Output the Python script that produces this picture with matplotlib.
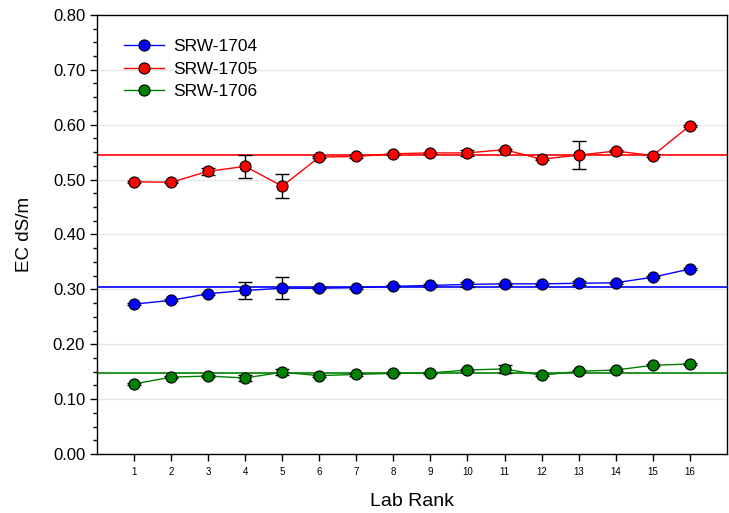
import matplotlib
matplotlib.use("Agg")
import matplotlib.pyplot as plt
from matplotlib.ticker import MultipleLocator

plt.rcParams['font.family'] = ['Liberation Sans', 'DejaVu Sans']

ranks = list(range(1, 17))
series_names = ["SRW-1704", "SRW-1705", "SRW-1706"]
colors = ["#0000ff", "#ff0000", "#008000"]

srw1704 = [0.273, 0.280, 0.292, 0.298, 0.302, 0.302, 0.303, 0.3055, 0.307, 0.309, 0.310, 0.310, 0.311, 0.312, 0.322, 0.337]
srw1704_err = [0.002, 0.002, 0.002, 0.0155, 0.020, 0.002, 0.002, 0.002, 0.002, 0.004, 0.002, 0.002, 0.004, 0.002, 0.002, 0.002]
srw1705 = [0.496, 0.495, 0.515, 0.524, 0.488, 0.541, 0.542, 0.547, 0.5485, 0.5485, 0.5545, 0.537, 0.5445, 0.552, 0.5437, 0.598]
srw1705_err = [0.002, 0.002, 0.006, 0.021, 0.022, 0.002, 0.002, 0.002, 0.002, 0.005, 0.002, 0.002, 0.026, 0.002, 0.002, 0.002]
srw1706 = [0.1276, 0.140, 0.142, 0.1385, 0.149, 0.1427, 0.145, 0.147, 0.1476, 0.153, 0.155, 0.1434, 0.1507, 0.153, 0.1616, 0.164]
srw1706_err = [0.002, 0.002, 0.002, 0.005, 0.005, 0.002, 0.002, 0.002, 0.002, 0.002, 0.007, 0.002, 0.002, 0.002, 0.002, 0.002]
ref_values = [0.304, 0.544, 0.147]

x_ticks = ranks
y_ticks = [0.0, 0.1, 0.2, 0.3, 0.4, 0.5, 0.6, 0.7, 0.8]

fig = plt.figure(figsize=(7.29, 5.13), dpi=100)
ax = fig.add_axes([0.133, 0.115, 0.864, 0.856])

for yv in y_ticks[1:-1]:
    ax.axhline(yv, color="#e6e6e6", lw=1.0, zorder=0)

data = [(srw1704, srw1704_err), (srw1705, srw1705_err), (srw1706, srw1706_err)]
for (vals, errs), name, c, rv in zip(data, series_names, colors, ref_values):
    ax.axhline(rv, color=c, lw=1.2, zorder=1)
    ax.errorbar(ranks, vals, yerr=errs, fmt='none', ecolor='black', elinewidth=1.0,
                capsize=4.7, capthick=1.0, zorder=2)
    ax.plot(ranks, vals, color=c, lw=1.0, marker='o', markersize=8,
            markerfacecolor=c, markeredgecolor='black', markeredgewidth=0.8,
            label=name, zorder=3)

ax.set_xlim(0, 17)
ax.set_ylim(0, 0.8)
ax.set_xticks(x_ticks)
ax.set_xticklabels([str(t) for t in x_ticks], fontsize=7)
ax.set_yticks(y_ticks)
ax.set_yticklabels([f"{v:.2f}" for v in y_ticks], fontsize=12)
ax.yaxis.set_minor_locator(MultipleLocator(0.025))
ax.tick_params(axis='both', which='major', direction='out', length=5, width=1)
ax.tick_params(axis='y', which='minor', direction='out', length=3, width=1)
ax.tick_params(axis='x', pad=4)
for s in ax.spines.values():
    s.set_linewidth(1.0)

ax.set_xlabel("Lab Rank", fontsize=14, labelpad=12)
ax.set_ylabel("EC dS/m", fontsize=13.5, labelpad=14)

leg = ax.legend(loc='upper left', bbox_to_anchor=(0.018, 0.98), frameon=False,
                fontsize=12.5, handlelength=2.3, labelspacing=0.42, handletextpad=0.55)

fig.savefig("out.png", dpi=100)
